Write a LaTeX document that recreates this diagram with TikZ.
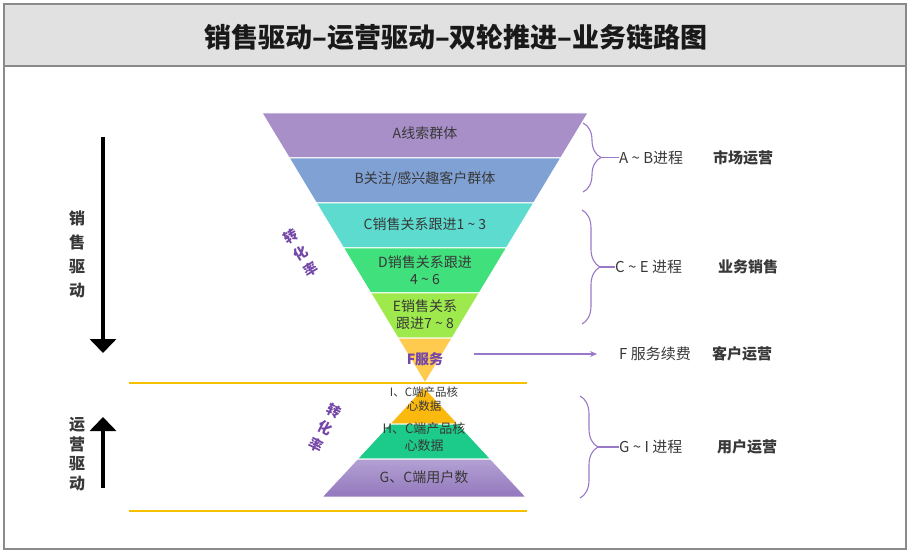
\documentclass[tikz,border=0pt]{standalone}
\usepackage{fontspec}
\setmainfont{Noto Sans CJK SC}
\usetikzlibrary{arrows.meta,decorations.pathreplacing}

\definecolor{titlegray}{HTML}{E1E1E1}
\definecolor{framegray}{HTML}{8A8A8A}
\definecolor{txtgray}{HTML}{383838}
\definecolor{secA}{HTML}{A88FC8}
\definecolor{secB}{HTML}{80A1D4}
\definecolor{secC}{HTML}{5EDBCF}
\definecolor{secD}{HTML}{40E07C}
\definecolor{secE}{HTML}{9EEA4C}
\definecolor{secF}{HTML}{FFCB4E}
\definecolor{secI}{HTML}{FBB90F}
\definecolor{secH}{HTML}{1CCB8A}
\definecolor{secGtop}{HTML}{B3A1D4}
\definecolor{secGbot}{HTML}{9378BC}
\definecolor{rate}{HTML}{7446A8}
\definecolor{bracecol}{HTML}{9A78C8}
\definecolor{gold}{HTML}{F5C000}

\newcommand{\tl}{\textasciitilde}

\tikzset{
  layer/.style={draw=white, line width=1pt},
  lbl/.style={text=txtgray, align=center, inner sep=0pt, font=\fontsize{14}{17}\selectfont},
  sidetxt/.style={anchor=west, text=txtgray, inner sep=0pt, font=\fontsize{15}{18}\selectfont},
  rolebold/.style={sidetxt, font=\fontsize{15}{18}\selectfont\bfseries},
  ratetxt/.style={text=rate, align=center, inner sep=0pt, font=\fontsize{14}{19.5}\selectfont\bfseries},
  drivetxt/.style={text=txtgray, align=center, inner sep=0pt},
  bracepen/.style={decorate, decoration={brace, amplitude=18pt}, draw=bracecol, line width=1.1pt},
  goldline/.style={draw=gold, line width=1.4pt},
  bigarrow/.style={line width=4pt, -{Triangle[length=14pt,width=26pt]}}
}

\begin{document}
\begin{tikzpicture}[x=1pt, y=-1pt]
\useasboundingbox (0,0) rectangle (910,553);

% frame and title band
\fill[titlegray] (4,4) rectangle (906,66);
\draw[framegray, line width=1.2pt] (4,4) rectangle (906,549);
\draw[framegray, line width=1.2pt] (4,66) -- (906,66);
\node[font=\fontsize{27}{32}\selectfont\bfseries, text=black!90] (title) at (456,37) {销售驱动–运营驱动–双轮推进–业务链路图};

% sales funnel
\path[layer, fill=secA] (262,113) -- (588,113) -- (560.8,158) -- (289.2,158) -- cycle;
\path[layer, fill=secB] (289.2,158) -- (560.8,158) -- (533.7,203) -- (316.3,203) -- cycle;
\path[layer, fill=secC] (316.3,203) -- (533.7,203) -- (506.5,248) -- (343.5,248) -- cycle;
\path[layer, fill=secD] (343.5,248) -- (506.5,248) -- (479.3,293) -- (370.7,293) -- cycle;
\path[layer, fill=secE] (370.7,293) -- (479.3,293) -- (452.2,338) -- (397.8,338) -- cycle;
\path[layer, fill=secF] (397.8,338) -- (452.2,338) -- (425,383) -- cycle;

\node[lbl] (nA) at (425,133) {A线索群体};
\node[lbl] (nB) at (425,179) {B关注/感兴趣客户群体};
\node[lbl] (nC) at (425,224) {C销售关系跟进1 \tl{} 3};
\node[lbl] (nD) at (425,270) {D销售关系跟进\\4 \tl{} 6};
\node[lbl] (nE) at (425,315) {E销售关系\\跟进7 \tl{} 8};
\node[lbl, text=rate, font=\fontsize{14}{17}\selectfont\bfseries] (nF) at (425,359) {F服务};

% user pyramid
\path[layer, fill=secI] (424,387) -- (458.3,424) -- (389.7,424) -- cycle;
\path[layer, fill=secH] (389.7,424) -- (458.3,424) -- (490.7,459) -- (357.3,459) -- cycle;
\path[layer, top color=secGtop, bottom color=secGbot] (357.3,459) -- (490.7,459) -- (526,497) -- (322,497) -- cycle;

\node[lbl, font=\fontsize{11.5}{14}\selectfont] (nI) at (424,399) {I、C端产品核\\心数据};
\node[lbl, font=\fontsize{13}{17}\selectfont] (nH) at (424,437.5) {H、C端产品核\\心数据};
\node[lbl] (nG) at (424,477) {G、C端用户数};

% conversion rate
\node[ratetxt, rotate=31] (rateTop) at (301,253) {转\\化\\率};
\node[ratetxt, rotate=-27] (rateBot) at (325,428) {转\\化\\率};

% golden separators
\draw[goldline] (129,383) -- (527,383);
\draw[goldline] (129,511) -- (527,511);

% drive arrows
\coordinate (salesTop) at (103,137);
\coordinate (salesEnd) at (103,353);
\draw[bigarrow] (salesTop) -- (salesEnd);
\node[drivetxt, font=\fontsize{16}{24}\selectfont\bfseries] (salesDrive) at (77,254) {销\\售\\驱\\动};
\coordinate (opsBot) at (103,488);
\coordinate (opsEnd) at (103,417);
\draw[bigarrow] (opsBot) -- (opsEnd);
\node[drivetxt, font=\fontsize{16}{19.5}\selectfont\bfseries] (opsDrive) at (77,454) {运\\营\\驱\\动};

% braces and stage labels
\draw[bracepen] (583,123) -- (583,192);
\coordinate (tipAB) at (601,157.5);
\node[sidetxt] (labAB) at (619,157.5) {A \tl{} B进程};
\node[rolebold] (roleAB) at (713,157.5) {市场运营};
\draw[bracecol, line width=1.1pt] (tipAB) -- (labAB.west);

\draw[bracepen] (582,210) -- (582,324);
\coordinate (tipCE) at (600,267);
\node[sidetxt] (labCE) at (615,267) {C \tl{} E 进程};
\node[rolebold] (roleCE) at (718,267) {业务销售};
\draw[bracecol, line width=1.1pt] (tipCE) -- (labCE.west);

\coordinate (fStart) at (474,354);
\coordinate (fEnd) at (597,354);
\draw[bracecol, line width=1.1pt, -{Stealth[length=7pt,width=6pt]}] (fStart) -- (fEnd);
\node[sidetxt] (labF) at (619,354) {F 服务续费};
\node[rolebold] (roleF) at (712,354) {客户运营};

\draw[bracepen] (580,396) -- (580,498);
\coordinate (tipGI) at (598,447);
\node[sidetxt] (labGI) at (619,447) {G \tl{} I 进程};
\node[rolebold] (roleGI) at (717,447) {用户运营};
\draw[bracecol, line width=1.1pt] (tipGI) -- (labGI.west);
\end{tikzpicture}
\end{document}
